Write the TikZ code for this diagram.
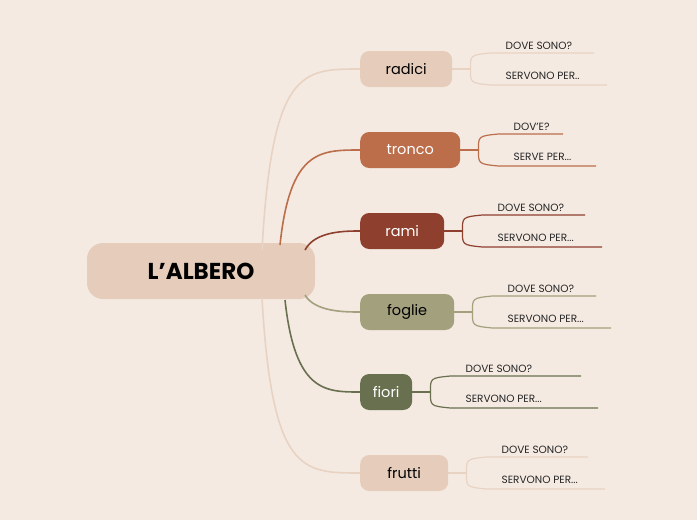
\documentclass[tikz,border=0pt]{standalone}
\usepackage{fontspec}
\setmainfont{Poppins}
\definecolor{bg}{HTML}{F4EAE2}
\definecolor{sand}{HTML}{E6CDBB}
\definecolor{sandline}{HTML}{E8D3C3}
\definecolor{rust}{HTML}{BC6E4A}
\definecolor{brick}{HTML}{8E3F2E}
\definecolor{olive}{HTML}{A3A07E}
\definecolor{moss}{HTML}{69704F}
\def\tdots{...}
\def\ddots{..}
\tikzset{root/.style={rounded corners=16pt, fill=sand, minimum width=228pt, minimum height=56pt, font=\bfseries\fontsize{23}{23}\selectfont},
  topic/.style={rounded corners=9pt, minimum height=36pt, font=\fontsize{14.5}{14.5}\selectfont, anchor=west},
  sub/.style={font=\fontsize{10.5}{10.5}\selectfont, text=black!85, anchor=south west, inner sep=3pt, xshift=12pt},
  link/.style={line width=1.6pt}}
\begin{document}
\begin{tikzpicture}[x=1pt,y=-1pt]
\fill[bg] (0,0) rectangle (697,520);
\useasboundingbox (0,0) rectangle (697,520);
\node[root] (albero) at (201,271) {L’ALBERO};
% branches
\foreach \name/\y/\w/\col/\tcol/\lcol/\ax/\ay/\up/\dn/\ua/\da in {
  radici/69/92/sand/black/sandline/262/250/594/607/DOVE SONO?/SERVONO PER\ddots,
  tronco/150/100/rust/white/rust/280/245/563/596/DOV’E?/SERVE PER\tdots,
  rami/231/84/brick/white/brick/305/250/585/602/DOVE SONO?/SERVONO PER\tdots,
  foglie/312/94/olive/black/olive/305/295/596/611/DOVE SONO?/SERVONO PER\tdots,
  fiori/392/52/moss/white/moss/285/300/581/598/DOVE SONO?/SERVONO PER\tdots,
  frutti/473/88/sand/black/sandline/262/298/588/605/DOVE SONO?/SERVONO PER\tdots}{
  \node[topic, fill=\col, text=\tcol, minimum width=\w pt] (\name) at (360,\y) {\name};
  \draw[link, \lcol] (\ax,\ay) .. controls (\ax+10,\y) and (\ax+40,\y) .. (\name.west);
  \coordinate (\name j) at ([xshift=18pt]\name.east);
  \coordinate (\name u) at ([xshift=38pt,yshift=16pt]\name.east);
  \coordinate (\name d) at ([xshift=38pt,yshift=-16pt]\name.east);
  \draw[\lcol, line width=1.2pt] (\name.east) -- (\name j);
  \draw[\lcol, line width=1.2pt] (\name j) .. controls ([yshift=14pt]\name j) .. (\name u) -- (\up,\y-16);
  \draw[\lcol, line width=1.2pt] (\name j) .. controls ([yshift=-14pt]\name j) .. (\name d) -- (\dn,\y+16);
  \node[sub] at (\name u) {\ua};
  \node[sub, yshift=2pt] at (\name d) {\da};
}
\end{tikzpicture}
\end{document}
